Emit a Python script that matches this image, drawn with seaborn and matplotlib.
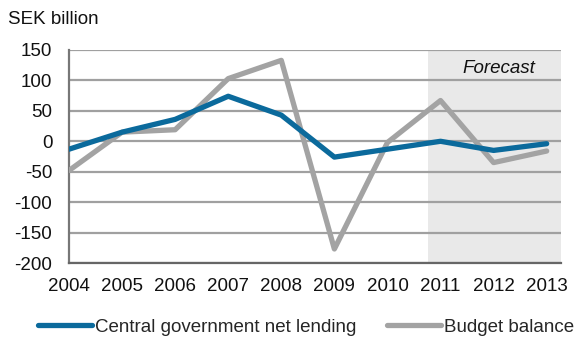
import matplotlib
matplotlib.use("Agg")
import matplotlib.pyplot as plt
import seaborn as sns
import pandas as pd

years = [2004, 2005, 2006, 2007, 2008, 2009, 2010, 2011, 2012, 2013]
net_lending = [-13, 15, 36, 74, 43, -26, -13, 0, -15, -4]
budget_balance = [-48, 15, 19, 103, 133, -177, -2, 67, -35, -16]
series_names = ["Central government net lending", "Budget balance"]
yticks = [-200, -150, -100, -50, 0, 50, 100, 150]

sns.set_theme(style="white")
plt.rcParams['font.family'] = ['Liberation Sans', 'DejaVu Sans']
plt.rcParams['axes.unicode_minus'] = False
FS = 13.5

df = pd.DataFrame({
    "year": years * 2,
    "value": net_lending + budget_balance,
    "series": [series_names[0]] * len(years) + [series_names[1]] * len(years),
})

fig = plt.figure(figsize=(5.81, 3.38), dpi=100)
ax = fig.add_axes([69/581, 1 - 263/338, (561-69)/581, (263-50)/338])

ax.axvspan(2010.77, 2013.27, color="#e9e9e9", zorder=0, lw=0)
for t in yticks:
    ax.axhline(t, color="#a0a0a0", lw=1.6, zorder=1)

sns.lineplot(data=df, x="year", y="value", hue="series",
             palette={series_names[0]: "#0b6a9c", series_names[1]: "#a3a3a3"},
             hue_order=series_names[::-1], lw=3.8, ax=ax, legend=False, zorder=3)

ax.set_xlim(2004, 2013.27)
ax.set_ylim(-200, 150)
ax.set_xticks(years)
ax.set_xticklabels([str(y) for y in years])
ax.set_yticks(yticks)
ax.tick_params(axis="both", length=0, labelsize=FS, colors="#111111")
ax.tick_params(axis="x", pad=11)
ax.tick_params(axis="y", pad=12)
ax.set_xlabel("")
ax.set_ylabel("")
for s in ["top", "right"]:
    ax.spines[s].set_visible(False)
ax.spines["left"].set_color("#777777")
ax.spines["left"].set_linewidth(1.6)
ax.spines["bottom"].set_color("#666666")
ax.spines["bottom"].set_linewidth(1.6)

ax.text(2012.1, 119, "Forecast", style="italic", fontsize=FS, ha="center", va="center", color="#111111")
fig.text(8/581, 1 - 20/338, "SEK billion", fontsize=FS, ha="left", va="center", color="#111111")

from matplotlib.lines import Line2D
handles = [Line2D([0], [0], color="#0b6a9c", lw=3.8),
           Line2D([0], [0], color="#a3a3a3", lw=3.8)]
fig.legend(handles, series_names, loc="center", bbox_to_anchor=(306/581, 1 - 327/338),
           ncol=2, frameon=False, fontsize=FS, handlelength=2.9, handletextpad=0.15,
           columnspacing=1.6, borderaxespad=0, borderpad=0)

fig.savefig("out.png", dpi=100)
